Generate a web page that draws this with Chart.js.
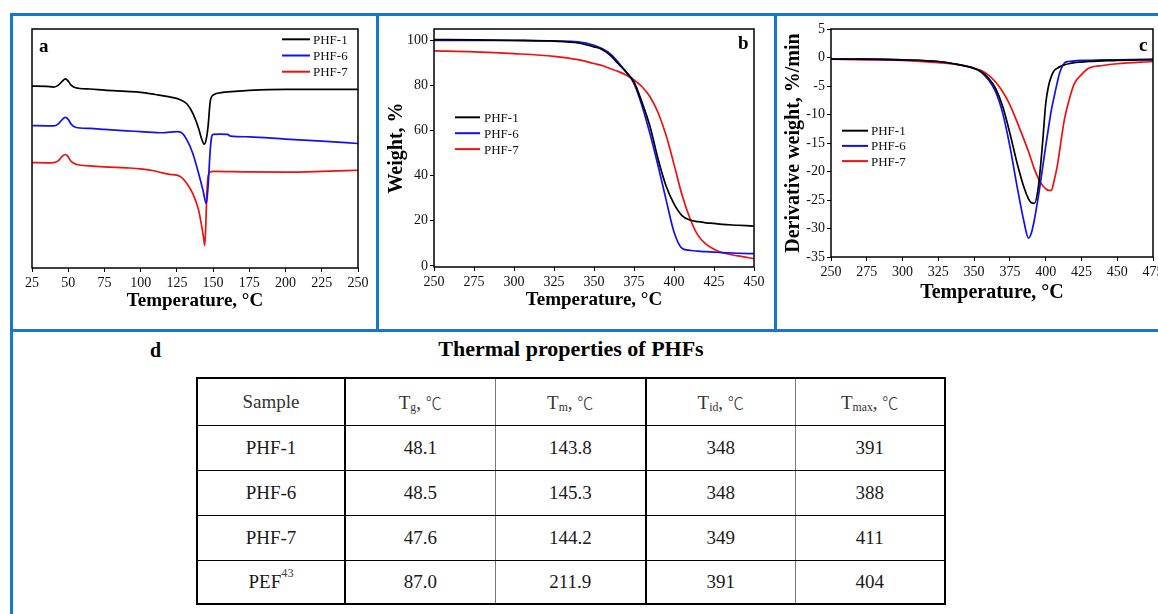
<!DOCTYPE html>
<html><head><meta charset="utf-8">
<script src="https://cdn.jsdelivr.net/npm/chart.js@4.4.1/dist/chart.umd.min.js"></script>
<style>
html,body{margin:0;padding:0;background:#fff;}
body{width:1158px;height:614px;position:relative;overflow:hidden;font-family:'Liberation Serif','Times New Roman',serif;}
.ln{position:absolute;background:#1677cc;z-index:5;}
canvas{position:absolute;}
.lbl{position:absolute;font-weight:bold;font-size:19px;line-height:1;color:#000;}
#tbl{position:absolute;left:196px;top:377px;border-collapse:collapse;table-layout:fixed;border:2px solid #000;}
#tbl td{text-align:center;vertical-align:middle;font-size:19px;color:#1a1a1a;padding:0;border-top:1.5px solid #000;border-bottom:1.5px solid #000;font-family:'Liberation Serif','Noto Sans CJK SC',serif;}
#tbl td.c1{border-right:2px solid #000;}
#tbl td.c2{border-right:1px solid #777;}
#tbl td.c3{border-right:2px solid #000;}
#tbl td.c4{border-right:1px solid #777;}
#tbl sub{font-size:0.62em;vertical-align:-0.2em;line-height:0;}
#tbl sup{font-size:0.65em;vertical-align:0.9em;line-height:0;color:#444;}
.deg{font-family:'Noto Sans CJK SC',sans-serif;font-size:0.85em;font-weight:300;}
</style>
</head><body>

<canvas id="ca" width="364" height="312" style="left:12px;top:16px;"></canvas>
<canvas id="cb" width="393" height="312" style="left:380px;top:16px;"></canvas>
<canvas id="cc" width="381" height="312" style="left:777px;top:16px;"></canvas>

<div class="ln" style="left:10px;top:13px;width:1148px;height:3px;"></div>
<div class="ln" style="left:10px;top:13px;width:3px;height:601px;"></div>
<div class="ln" style="left:376px;top:13px;width:3px;height:318px;"></div>
<div class="ln" style="left:774px;top:13px;width:3px;height:318px;"></div>
<div class="ln" style="left:10px;top:329px;width:1148px;height:3px;"></div>

<div class="lbl" style="left:39px;top:36px;">a</div>
<div class="lbl" style="left:738px;top:33px;">b</div>
<div class="lbl" style="left:1139px;top:35px;">c</div>

<div class="lbl" style="left:150px;top:340px;font-size:20px;">d</div>
<div class="lbl" style="left:371px;top:338px;width:400px;text-align:center;font-size:22px;">Thermal properties of PHFs</div>

<table id="tbl">
<colgroup><col style="width:148px"><col style="width:150px"><col style="width:151px"><col style="width:149px"><col style="width:150px"></colgroup>
<tbody id="tbody"></tbody>
</table>

<script>
// ---------- Panel a: DSC ----------
const dscTicks = [25,50,75,100,125,150,175,200,225,250];
const dscT1 = [25,35,40,43,46,48,50,52,55,65,75,90,100,110,120,127,132,136,140,142,143.8,145,146.5,148,150,155,165,175,200,225,250];
const dscPHF1 = [76.1,76.0,75.7,76.4,78.2,79.1,78.2,76.5,75.4,74.9,74.4,73.9,73.5,72.6,71.6,70.5,68.6,64.7,58.4,54.2,51.8,53.2,59.1,69.6,72.3,73.3,73.9,74.3,74.7,74.7,74.7];
const dscT6 = [25,35,40,43,46,48,50,52,55,65,75,90,100,115,125,128,132,136,140,143,145.3,146.5,148,149,150,155,160,162,175,200,225,250];
const dscPHF6 = [59.6,59.5,59.5,60.2,62.2,63.0,62.2,60.2,58.9,58.4,58.0,57.4,57.1,56.6,57.1,56.7,53.5,47.9,39.5,32.5,27.0,33.9,49.3,54.9,55.9,56.0,55.9,55.2,54.9,53.9,53.1,52.1];
const dscT7 = [25,35,40,43,46,48,50,52,56,65,75,90,100,110,115,120,127,132,136,140,142,143.5,144.2,145,145.5,146.5,148,150,175,200,225,250];
const dscPHF7 = [44.1,44.0,44.1,44.8,46.8,47.5,46.5,44.6,43.3,42.7,42.3,41.9,41.5,40.6,39.8,39.2,38.4,35.3,31.1,24.2,17.9,12.3,9.4,18.6,28.4,38.1,40.2,40.4,40.2,40.1,40.4,40.9];

// ---------- Panel b: TGA ----------
const tgaXTicks = [250,275,300,325,350,375,400,425,450];
const tgaYTicks = [0,20,40,60,80,100];
const tgaT = [250,275,300,325,340,350,355,360,365,370,375,380,385,390,395,400,405,410,415,420,425,430,440,450];
const tgaPHF1 = [100.3,100.2,100.0,99.6,98.8,97.1,95.9,93.4,89.7,86.0,81.5,72.5,61.8,47.5,35.5,27.5,22.3,20.3,19.6,19.1,18.8,18.4,18.0,17.6];
const tgaPHF6 = [100.0,100.0,99.9,99.7,99.3,97.8,96.3,94.1,90.4,86.0,80.8,71.0,58.5,44.5,29.5,15.0,7.8,6.9,6.5,6.3,6.1,5.9,5.6,5.4];
const tgaPHF7 = [95.3,94.9,94.1,92.9,91.4,89.7,88.8,87.5,86.2,84.6,82.4,79.4,75.0,68.0,58.0,45.0,31.5,21.0,13.5,9.6,7.4,5.9,4.4,3.2];

// ---------- Panel c: DTG ----------
const dtgXTicks = [250,275,300,325,350,375,400,425,450,475];
const dtgYTicks = [5,0,-5,-10,-15,-20,-25,-30,-35];
const dtgT = [250,275,300,325,340,350,355,360,365,370,375,380,385,388,390,392,395,398,400,402,404,406,408,410,413,416,420,425,430,440,450,475];
const dtgPHF1 = [-0.3,-0.3,-0.4,-0.7,-1.3,-1.9,-2.5,-3.6,-5.4,-8.6,-13.3,-18.5,-22.9,-24.8,-25.5,-25.6,-22.5,-14.5,-8.2,-5.0,-3.3,-2.3,-1.9,-1.6,-1.3,-1.1,-0.9,-0.8,-0.7,-0.6,-0.5,-0.4];
const dtgPHF6 = [-0.3,-0.3,-0.4,-0.7,-1.3,-1.9,-2.6,-3.9,-6.0,-9.8,-15.6,-22.6,-29.0,-31.7,-30.8,-28.6,-24.2,-19.1,-15.6,-12.3,-9.2,-6.8,-4.5,-2.5,-1.0,-0.7,-0.6,-0.5,-0.5,-0.4,-0.4,-0.3];
const dtgPHF7 = [-0.3,-0.4,-0.5,-0.9,-1.3,-1.9,-2.3,-3.1,-4.3,-6.0,-8.3,-11.3,-14.5,-16.5,-18.0,-19.5,-21.3,-22.5,-23.0,-23.3,-23.3,-21.5,-19.2,-15.9,-11.0,-7.8,-4.6,-3.0,-1.9,-1.4,-1.1,-0.7];

// ---------- Panel d: table ----------
const tableHeader = ['Sample','T<sub>g</sub>, <span class="deg">℃</span>','T<sub>m</sub>, <span class="deg">℃</span>','T<sub>id</sub>, <span class="deg">℃</span>','T<sub>max</sub>, <span class="deg">℃</span>'];
const samples = ['PHF-1','PHF-6','PHF-7','PEF<sup>43</sup>'];
const tgValues = ['48.1','48.5','47.6','87.0'];
const tmValues = ['143.8','145.3','144.2','211.9'];
const tidValues = ['348','348','349','391'];
const tmaxValues = ['391','388','411','404'];

const seriesLabels = ['PHF-1','PHF-6','PHF-7'];
const seriesColors = ['#000000','#1010f0','#f01010'];

// build table
(function(){
  const tb = document.getElementById('tbody');
  const rows = [tableHeader];
  samples.forEach((s,i)=>rows.push([s,tgValues[i],tmValues[i],tidValues[i],tmaxValues[i]]));
  const heights = [47,45,45,45,44];
  rows.forEach((r,ri)=>{
    const tr = document.createElement('tr');
    tr.style.height = heights[ri]+'px';
    r.forEach((c,ci)=>{
      const td = document.createElement('td');
      td.className = 'c'+(ci+1);
      td.innerHTML = c;
      if(ri===0) td.style.color='#333';
      tr.appendChild(td);
    });
    tb.appendChild(tr);
  });
})();

const FONT = "'Liberation Serif','Times New Roman',serif";

const boxPlugin = {
  id:'boxPlugin',
  afterDraw(chart){
    const a = chart.chartArea, ctx = chart.ctx;
    ctx.save(); ctx.strokeStyle='#000'; ctx.lineWidth=1.5;
    ctx.strokeRect(a.left, a.top, a.right-a.left, a.bottom-a.top);
    ctx.restore();
  }
};
const innerLegend = {
  id:'innerLegend',
  afterDatasetsDraw(chart, args, opts){
    const ctx = chart.ctx; ctx.save();
    ctx.font = opts.font; ctx.textBaseline='middle'; ctx.textAlign='left'; ctx.fillStyle='#111';
    chart.data.datasets.forEach((ds,i)=>{
      const y = opts.y + i*opts.dy;
      ctx.strokeStyle = ds.borderColor; ctx.lineWidth = 2;
      ctx.beginPath(); ctx.moveTo(opts.x, y); ctx.lineTo(opts.x+opts.len, y); ctx.stroke();
      ctx.fillText(ds.label, opts.x+opts.len+opts.gap, y+1);
    });
    ctx.restore();
  }
};

function pts(xs, ys){ return xs.map((x,i)=>({x:x, y:ys[i]})); }
function ds(label, color, data){
  return {label, data, borderColor:color, backgroundColor:color, borderWidth:1.7, pointRadius:0, fill:false, cubicInterpolationMode:'monotone'};
}
function xScale(min,max,ticks,h,titleSize){
  return {
    type:'linear', min, max,
    afterBuildTicks: s=>{ s.ticks = ticks.map(v=>({value:v})); },
    afterFit: s=>{ s.height=h; s.paddingLeft=0; s.paddingRight=0; },
    ticks:{font:{family:FONT,size:14}, color:'#111', padding:3, maxRotation:0, autoSkip:false},
    grid:{drawOnChartArea:false, tickLength:4, color:'#000', lineWidth:1},
    border:{display:false},
    title:{display:true, text:'Temperature, °C', color:'#000', font:{family:FONT,size:titleSize,weight:'bold'}, padding:{top:0,bottom:4}}
  };
}
function yScale(min,max,ticks,title,titleSize){
  return {
    type:'linear', min, max,
    afterBuildTicks: s=>{ s.ticks = ticks.map(v=>({value:v})); },
    afterFit: s=>{ s.width=54; s.paddingTop=0; s.paddingBottom=0; },
    ticks:{font:{family:FONT,size:14}, color:'#111', padding:2, autoSkip:false},
    grid:{drawOnChartArea:false, tickLength:4, color:'#000', lineWidth:1},
    border:{display:false},
    title:{display:true, text:title, color:'#000', font:{family:FONT,size:titleSize,weight:'bold'}, padding:{top:5,bottom:0}}
  };
}
const common = {responsive:false, animation:false, devicePixelRatio:1, events:[]};

new Chart(document.getElementById('ca'), {
  type:'line',
  data:{datasets:[
    ds(seriesLabels[0], seriesColors[0], pts(dscT1,dscPHF1)),
    ds(seriesLabels[1], seriesColors[1], pts(dscT6,dscPHF6)),
    ds(seriesLabels[2], seriesColors[2], pts(dscT7,dscPHF7))
  ]},
  options:Object.assign({}, common, {
    layout:{padding:{left:20,right:18,top:13,bottom:12}},
    scales:{ x:xScale(25,250,dscTicks,48,19), y:{display:false,min:0,max:100} },
    plugins:{legend:{display:false}, tooltip:{enabled:false},
      innerLegend:{x:270,y:23.3,dy:16.2,len:28,gap:3,font:"13px "+FONT}}
  }),
  plugins:[boxPlugin, innerLegend]
});

new Chart(document.getElementById('cb'), {
  type:'line',
  data:{datasets:[
    ds(seriesLabels[0], seriesColors[0], pts(tgaT,tgaPHF1)),
    ds(seriesLabels[1], seriesColors[1], pts(tgaT,tgaPHF6)),
    ds(seriesLabels[2], seriesColors[2], pts(tgaT,tgaPHF7))
  ]},
  options:Object.assign({}, common, {
    layout:{padding:{left:0,right:19,top:13,bottom:13}},
    scales:{ x:xScale(250,450,tgaXTicks,48,19), y:yScale(-0.5,105,tgaYTicks,'Weight, %',20) },
    plugins:{legend:{display:false}, tooltip:{enabled:false},
      innerLegend:{x:75,y:101.3,dy:15.9,len:25,gap:4,font:"13px "+FONT}}
  }),
  plugins:[boxPlugin, innerLegend]
});

new Chart(document.getElementById('cc'), {
  type:'line',
  data:{datasets:[
    ds(seriesLabels[0], seriesColors[0], pts(dtgT,dtgPHF1)),
    ds(seriesLabels[1], seriesColors[1], pts(dtgT,dtgPHF6)),
    ds(seriesLabels[2], seriesColors[2], pts(dtgT,dtgPHF7))
  ]},
  options:Object.assign({}, common, {
    layout:{padding:{left:0,right:5,top:13,bottom:19}},
    scales:{ x:xScale(250,475,dtgXTicks,52,20), y:yScale(-35,5,dtgYTicks,'Derivative weight, %/min',20) },
    plugins:{legend:{display:false}, tooltip:{enabled:false},
      innerLegend:{x:65,y:114.7,dy:15.2,len:26,gap:3,font:"13px "+FONT}}
  }),
  plugins:[boxPlugin, innerLegend]
});
</script>
</body></html>
